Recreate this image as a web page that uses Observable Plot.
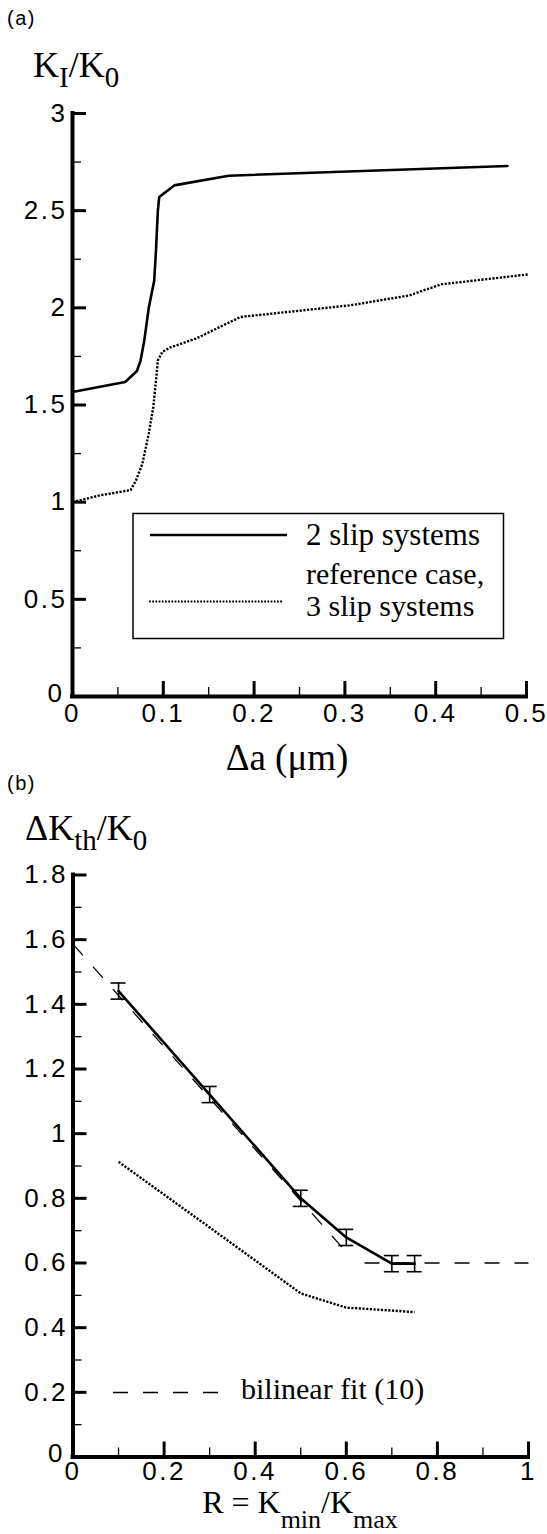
<!DOCTYPE html>
<html>
<head>
<meta charset="utf-8">
<script src="https://cdn.jsdelivr.net/npm/d3@7"></script>
<script src="https://cdn.jsdelivr.net/npm/@observablehq/plot@0.6"></script>
<style>
  body { margin: 0; background: #fff; }
  #page { position: relative; width: 547px; height: 1534px; overflow: hidden; background: #fff; }
  #page > svg { position: absolute; left: 0; }
</style>
</head>
<body>
<div id="page"></div>
<script>
// ---- Panel (a): K_I/K_0 against crack growth Δa (μm) ----
const aXTicks = [0, 0.1, 0.2, 0.3, 0.4, 0.5];
const aXMinor = [0.05, 0.15, 0.25, 0.35, 0.45];
const aYTicks = [0, 0.5, 1, 1.5, 2, 2.5, 3];
const aYMinor = [0.25, 0.75, 1.25, 1.75, 2.25, 2.75];

// 2 slip systems
const growthTwoSlip = [0, 0.058, 0.071, 0.075, 0.079, 0.084, 0.090, 0.092, 0.094, 0.0955, 0.112, 0.172, 0.479];
const kTwoSlip      = [1.567, 1.618, 1.675, 1.73, 1.83, 2.00, 2.14, 2.30, 2.50, 2.57, 2.63, 2.68, 2.73];

// reference case, 3 slip systems
const growthThreeSlip = [0, 0.031, 0.064, 0.070, 0.077, 0.084, 0.089, 0.092, 0.094, 0.099, 0.107, 0.136, 0.185, 0.306, 0.371, 0.406, 0.502];
const kThreeSlip      = [1.00, 1.036, 1.062, 1.113, 1.199, 1.353, 1.490, 1.627, 1.730, 1.773, 1.795, 1.842, 1.953, 2.013, 2.064, 2.121, 2.172];

// ---- Panel (b): threshold ΔK_th/K_0 against load ratio R ----
const bXTicks = [0, 0.2, 0.4, 0.6, 0.8, 1];
const bXMinor = [0.1, 0.3, 0.5, 0.7, 0.9];
const bYTicks = [0, 0.2, 0.4, 0.6, 0.8, 1, 1.2, 1.4, 1.6, 1.8];
const bYMinor = [0.1, 0.3, 0.5, 0.7, 0.9, 1.1, 1.3, 1.5, 1.7];

const loadRatio      = [0.1, 0.3, 0.5, 0.6, 0.7, 0.75];
const thresholdTwo   = [1.441, 1.121, 0.800, 0.679, 0.598, 0.598];
const thresholdErr   = [0.025, 0.025, 0.025, 0.025, 0.025, 0.025];
const thresholdThree = [0.913, 0.710, 0.506, 0.462, 0.453, 0.448];

// bilinear fit (10): a sloped piece and a flat piece
const fitRatio = [0, 0.61, 0.64, 1];
const fitValue = [1.586, 0.618, 0.6, 0.6];
const fitPiece = ["slope", "slope", "flat", "flat"];

const SANS = "'Liberation Sans', Arial, Helvetica, sans-serif";
const SERIF = "'Liberation Serif', 'Times New Roman', serif";

const toRows = (xs, ys) => xs.map((x, i) => ({x, y: ys[i]}));
const fmt = d => String(d);

// Axis lines, inward major/minor ticks and tick labels
function frameMarks(xMaj, xMin, yMaj, yMin, xPad) {
  return [
    Plot.ruleX(xMaj, {x: d => d, y1: 0, y2: 0, insetTop: -15, strokeWidth: 3}),
    Plot.ruleX(xMin, {x: d => d, y1: 0, y2: 0, insetTop: -9, strokeWidth: 1.3}),
    Plot.ruleY(yMaj, {y: d => d, x1: 0, x2: 0, insetRight: -14, strokeWidth: 3}),
    Plot.ruleY(yMin, {y: d => d, x1: 0, x2: 0, insetRight: -9, strokeWidth: 1.3}),
    Plot.ruleX([0], {strokeWidth: 4, strokeLinecap: "square"}),
    Plot.ruleY([0], {strokeWidth: 4, strokeLinecap: "square"}),
    // the origin's y label sits a little up and left so it clears the x label
    Plot.axisY(yMaj.filter(d => d !== 0), {tickSize: 0, tickPadding: 5, tickFormat: fmt, label: null}),
    Plot.axisY(yMaj.filter(d => d === 0), {tickSize: 0, tickPadding: 8, dy: -3, tickFormat: fmt, label: null}),
    Plot.axisX(xMaj, {tickSize: 0, tickPadding: xPad, tickFormat: fmt, label: null})
  ];
}

const plotStyle = {fontFamily: SANS, fontSize: "26px", letterSpacing: "2.5px", color: "#000", overflow: "visible"};
const dotted = {stroke: "#000", strokeWidth: 2.4, strokeDasharray: "2.2,1.5", strokeLinecap: "butt"};

const page = document.getElementById("page");

// Panel (a)
const chartA = Plot.plot({
  width: 547, height: 646,
  marginLeft: 72, marginRight: 21, marginTop: 23, marginBottom: 40,
  x: {domain: [0, 0.5]},
  y: {domain: [0, 3]},
  style: plotStyle,
  marks: [
    ...frameMarks(aXTicks, aXMinor, aYTicks, aYMinor, 7),
    Plot.line(toRows(growthThreeSlip, kThreeSlip), {x: "x", y: "y", ...dotted}),
    Plot.line(toRows(growthTwoSlip, kTwoSlip), {x: "x", y: "y", stroke: "#000", strokeWidth: 2.6})
  ]
});
chartA.style.top = "90px";
page.appendChild(chartA);

// Panel (b)
const pts = loadRatio.map((r, i) => ({r, v: thresholdTwo[i], lo: thresholdTwo[i] - thresholdErr[i], hi: thresholdTwo[i] + thresholdErr[i]}));
const chartB = Plot.plot({
  width: 547, height: 646.5,
  marginLeft: 72.5, marginRight: 19, marginTop: 24.5, marginBottom: 40,
  x: {domain: [0, 1]},
  y: {domain: [0, 1.8]},
  style: plotStyle,
  marks: [
    ...frameMarks(bXTicks, bXMinor, bYTicks, bYMinor, 5),
    Plot.line(fitRatio.map((r, i) => ({r, v: fitValue[i], p: fitPiece[i]})), {x: "r", y: "v", z: "p", stroke: "#000", strokeWidth: 1.3, strokeDasharray: "15,15", strokeLinecap: "butt"}),
    Plot.line(toRows(loadRatio, thresholdThree), {x: "x", y: "y", ...dotted}),
    Plot.line(pts, {x: "r", y: "v", stroke: "#000", strokeWidth: 2.6}),
    Plot.ruleX(pts, {x: "r", y1: "lo", y2: "hi", strokeWidth: 1.6}),
    Plot.ruleY(pts, {y: "hi", x1: "r", x2: "r", insetLeft: -7.5, insetRight: -7.5, strokeWidth: 1.6}),
    Plot.ruleY(pts, {y: "lo", x1: "r", x2: "r", insetLeft: -7.5, insetRight: -7.5, strokeWidth: 1.6})
  ]
});
chartB.style.top = "850px";
page.appendChild(chartB);

// Titles, panel tags and legends
const over = d3.select(page).append("svg")
  .attr("width", 547).attr("height", 1534)
  .style("top", "0px").style("pointer-events", "none");

function richText(x, y, parts, opts = {}) {
  const size = opts.size || 36, sub = opts.sub || 28, drop = opts.drop || 10;
  const t = over.append("text").attr("x", x).attr("y", y)
    .attr("font-family", opts.family || SERIF).attr("font-size", size)
    .attr("text-anchor", opts.anchor || "start");
  let low = false;
  for (const p of parts) {
    const s = t.append("tspan").text(p.t);
    if (p.sub && !low) { s.attr("dy", drop).attr("font-size", sub); low = true; }
    else if (p.sub) { s.attr("font-size", sub); }
    else if (low) { s.attr("dy", -drop); low = false; }
  }
  return t;
}

richText(7, 25, [{t: "(a)"}], {family: SANS, size: 20}).attr("letter-spacing", "1.5px");
richText(7, 790, [{t: "(b)"}], {family: SANS, size: 20}).attr("letter-spacing", "1.5px");

richText(33, 77, [{t: "K"}, {t: "I", sub: true}, {t: "/K"}, {t: "0", sub: true}], {size: 36, sub: 29, drop: 10});
richText(287, 770, [{t: "Δa (μm)"}], {size: 37, anchor: "middle"});

richText(25, 840, [{t: "ΔK"}, {t: "th", sub: true}, {t: "/K"}, {t: "0", sub: true}], {size: 36, sub: 29, drop: 10});
richText(300, 1513, [{t: "R = K"}, {t: "min", sub: true}, {t: "/K"}, {t: "max", sub: true}], {size: 32, sub: 26, drop: 15, anchor: "middle"});

// Legend of panel (a)
over.append("rect").attr("x", 133).attr("y", 513.5).attr("width", 370.5).attr("height", 125)
  .attr("fill", "#fff").attr("stroke", "#000").attr("stroke-width", 1.5);
over.append("line").attr("x1", 150).attr("x2", 287).attr("y1", 535).attr("y2", 535)
  .attr("stroke", "#000").attr("stroke-width", 2.6);
over.append("line").attr("x1", 149).attr("x2", 283).attr("y1", 601.5).attr("y2", 601.5)
  .attr("stroke", "#000").attr("stroke-width", 2).attr("stroke-dasharray", "1.8,1.4");
richText(306, 545, [{t: "2 slip systems"}], {size: 31});
richText(306, 584, [{t: "reference case,"}], {size: 30});
richText(306, 616, [{t: "3 slip systems"}], {size: 30});

// Legend of panel (b)
over.append("line").attr("x1", 113).attr("x2", 220).attr("y1", 1392.5).attr("y2", 1392.5)
  .attr("stroke", "#000").attr("stroke-width", 1.3).attr("stroke-dasharray", "15,15");
richText(241, 1399, [{t: "bilinear fit (10)"}], {size: 30});
</script>
</body>
</html>
